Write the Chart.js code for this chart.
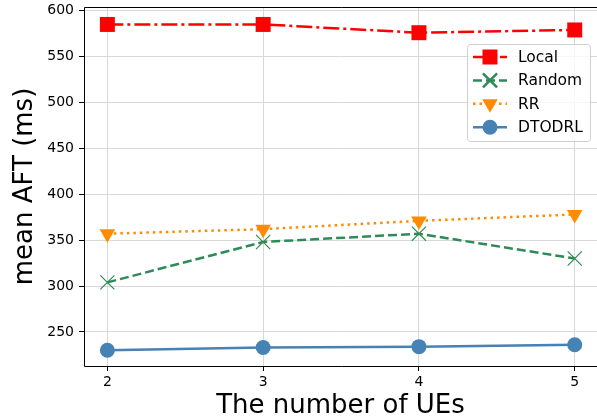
<!DOCTYPE html>
<html>
<head>
<meta charset="utf-8">
<script src="https://cdn.jsdelivr.net/npm/chart.js@4"></script>
<style>
  html, body { margin: 0; padding: 0; background: #fff; overflow: hidden; }
  #wrap { width: 597px; height: 418px; position: relative; }
</style>
</head>
<body>
<div id="wrap"><canvas id="aftChart"></canvas></div>
<script>
// Data
const ueCounts = [2, 3, 4, 5];
const localAft = [585, 585, 576, 579];
const randomAft = [304, 348, 357, 330];
const rrAft = [357, 362, 371, 378];
const dtodrlAft = [230, 233, 234, 236];
const yTicks = [250, 300, 350, 400, 450, 500, 550, 600];

const colors = {
    local: '#ff0000',
    random: '#2e8b57',
    rr: '#ff8c00',
    dtodrl: '#4682b4',
    grid: '#d8d8d8'
};

const font = 'DejaVu Sans';

function points(values) {
    return ueCounts.map((x, i) => ({ x: x, y: values[i] }));
}

function drawMarker(ctx, ds, x, y) {
    ctx.save();
    ctx.fillStyle = ds.pointBackgroundColor;
    ctx.strokeStyle = ds.pointBorderColor;
    Chart.helpers.drawPoint(ctx, {
        pointStyle: ds.pointStyle,
        radius: ds.pointRadius,
        rotation: ds.pointRotation || 0,
        borderWidth: ds.pointBorderWidth
    }, x, y);
    ctx.restore();
}

// Black frame round the plot area (the right side runs off the canvas)
const framePlugin = {
    id: 'frame',
    afterDatasetsDraw(chart) {
        const a = chart.chartArea;
        const ctx = chart.ctx;
        const l = Math.round(a.left) + 0.5;
        const t = Math.round(a.top) + 0.5;
        const b = Math.round(a.bottom) + 0.5;
        ctx.save();
        ctx.strokeStyle = '#000';
        ctx.lineWidth = 1;
        ctx.beginPath();
        ctx.moveTo(chart.width + 2, t);
        ctx.lineTo(l, t);
        ctx.lineTo(l, b);
        ctx.lineTo(chart.width + 2, b);
        ctx.stroke();
        ctx.restore();
    }
};

// Legend box in the upper right of the plot, drawn from the datasets
const legendPlugin = {
    id: 'boxLegend',
    afterDraw(chart) {
        const ctx = chart.ctx;
        const box = { x: 467, y: 44, w: 123, h: 97 };
        ctx.save();
        ctx.beginPath();
        ctx.roundRect(box.x + 0.5, box.y + 0.5, box.w, box.h, 3);
        ctx.fillStyle = 'rgba(255,255,255,0.8)';
        ctx.fill();
        ctx.strokeStyle = '#d0d0d0';
        ctx.lineWidth = 1;
        ctx.stroke();

        chart.data.datasets.forEach((ds, i) => {
            const cy = 57 + i * 23.4;
            ctx.beginPath();
            ctx.setLineDash(ds.borderDash || []);
            ctx.strokeStyle = ds.borderColor;
            ctx.lineWidth = ds.borderWidth;
            ctx.moveTo(473, cy);
            ctx.lineTo(507, cy);
            ctx.stroke();
            ctx.setLineDash([]);
            drawMarker(ctx, ds, 490, cy);
            ctx.fillStyle = '#000';
            ctx.font = '15.5px "' + font + '"';
            ctx.textBaseline = 'middle';
            ctx.fillText(ds.label, 518, cy + 1);
        });
        ctx.restore();
    }
};

new Chart(document.getElementById('aftChart'), {
    type: 'line',
    data: {
        datasets: [
            {
                label: 'Local',
                data: points(localAft),
                borderColor: colors.local,
                backgroundColor: colors.local,
                borderWidth: 2.5,
                borderDash: [16, 4, 3, 4],
                pointStyle: 'rect',
                pointRadius: 10.6,
                pointBackgroundColor: colors.local,
                pointBorderColor: colors.local,
                pointBorderWidth: 0,
                order: 4
            },
            {
                label: 'Random',
                data: points(randomAft),
                borderColor: colors.random,
                backgroundColor: colors.random,
                borderWidth: 2.5,
                borderDash: [9, 4],
                pointStyle: 'crossRot',
                pointRadius: 10,
                pointBackgroundColor: colors.random,
                pointBorderColor: colors.random,
                pointBorderWidth: 1.2,
                order: 3
            },
            {
                label: 'RR',
                data: points(rrAft),
                borderColor: colors.rr,
                backgroundColor: colors.rr,
                borderWidth: 2.5,
                borderDash: [2.5, 4],
                pointStyle: 'triangle',
                pointRotation: 180,
                pointRadius: 9,
                pointBackgroundColor: colors.rr,
                pointBorderColor: colors.rr,
                pointBorderWidth: 0,
                order: 2
            },
            {
                label: 'DTODRL',
                data: points(dtodrlAft),
                borderColor: colors.dtodrl,
                backgroundColor: colors.dtodrl,
                borderWidth: 2.5,
                pointStyle: 'circle',
                pointRadius: 7.5,
                pointBackgroundColor: colors.dtodrl,
                pointBorderColor: colors.dtodrl,
                pointBorderWidth: 0,
                order: 1
            }
        ]
    },
    options: {
        responsive: true,
        maintainAspectRatio: false,
        animation: false,
        layout: { autoPadding: false, padding: { top: 7, right: 0, left: 0, bottom: 0 } },
        plugins: {
            legend: { display: false },
            tooltip: { enabled: false }
        },
        scales: {
            x: {
                type: 'linear',
                min: 1.85,
                max: 5.143,
                afterBuildTicks: (axis) => { axis.ticks = ueCounts.map(v => ({ value: v })); },
                afterFit: (axis) => {
                    axis.height = 52;
                    axis.paddingLeft = 0;
                    axis.paddingRight = 0;
                },
                border: { display: false },
                grid: { color: colors.grid, tickColor: '#000', tickLength: 5, lineWidth: 1 },
                ticks: { color: '#000', font: { family: font, size: 14 }, padding: 3, maxRotation: 0 },
                title: {
                    display: true,
                    text: 'The number of UEs',
                    color: '#000',
                    font: { family: font, size: 26 },
                    padding: { top: 0, bottom: -4 }
                }
            },
            y: {
                type: 'linear',
                min: 212.9,
                max: 604,
                afterBuildTicks: (axis) => { axis.ticks = yTicks.map(v => ({ value: v })); },
                afterFit: (axis) => {
                    axis.width = 84;
                    axis.paddingTop = 0;
                    axis.paddingBottom = 0;
                },
                border: { display: false },
                grid: { color: colors.grid, tickColor: '#000', tickLength: 5, lineWidth: 1 },
                ticks: { color: '#000', font: { family: font, size: 14 }, padding: 5 },
                title: {
                    display: true,
                    text: 'mean AFT (ms)',
                    color: '#000',
                    font: { family: font, size: 26 },
                    padding: { top: 10, bottom: 0 }
                }
            }
        }
    },
    plugins: [framePlugin, legendPlugin]
});
</script>
</body>
</html>
